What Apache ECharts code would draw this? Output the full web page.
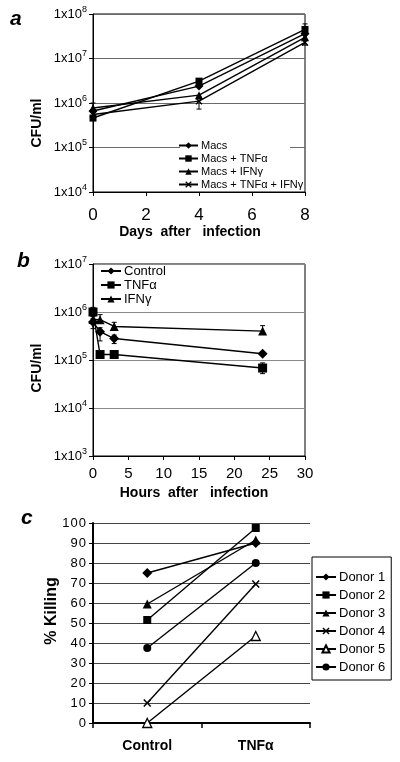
<!DOCTYPE html>
<html>
<head>
<meta charset="utf-8">
<script src="https://cdn.jsdelivr.net/npm/echarts@6/dist/echarts.min.js"></script>
<style>
html,body{margin:0;padding:0;background:#fff;}
#chart{width:400px;height:762px;}
</style>
</head>
<body>
<div id="chart"></div>
<script>
// ---------- Panel a data ----------
const aDays = [0, 4, 8];
const aMacs = [6.6e5, 2.4e6, 3.6e7];
const aTnf = [4.6e5, 3.1e6, 4.5e7];
const aIfn = [7.7e5, 1.5e6, 3.0e7];
const aBoth = [5.5e5, 1.1e6, 2.3e7];
const aNames = ['Macs', 'Macs + TNFα', 'Macs + IFNγ', 'Macs + TNFα + IFNγ'];
// error bars panel a: [day, low, high]
const aErrX = [0, 4, 8];
const aErrLow = [4.0e5, 0.73e6, 2.0e7];
const aErrHigh = [1.0e6, 1.35e6, 6.0e7];

// ---------- Panel b data ----------
const bHours = [0, 1, 3, 24];
const bControl = [6.2e5, 3.9e5, 2.8e5, 1.35e5];
const bTnf = [1.0e6, 1.3e5, 1.3e5, 6.8e4];
const bIfn = [7.0e5, 6.9e5, 5.0e5, 4.0e5];
const bNames = ['Control', 'TNFα', 'IFNγ'];
const bErrX = [0, 1, 3, 24, 0, 1, 3, 24, 1, 3, 24];
const bErrLow = [0.72e6, 2.5e5, 2.2e5, 1.25e5, 4.5e5, 1.2e5, 1.2e5, 5.2e4, 6.1e5, 4.5e5, 3.4e5];
const bErrHigh = [1.25e6, 4.7e5, 3.3e5, 1.45e5, 8.0e5, 1.4e5, 1.45e5, 8.7e4, 8.8e5, 6.1e5, 5.2e5];

// ---------- Panel c data ----------
const cCats = ['Control', 'TNFα'];
const cDonor1 = [75, 90];
const cDonor2 = [51.5, 97.5];
const cDonor3 = [59.5, 91.5];
const cDonor4 = [10, 69.5];
const cDonor5 = [0, 43.5];
const cDonor6 = [37.5, 80];
const cNames = ['Donor 1', 'Donor 2', 'Donor 3', 'Donor 4', 'Donor 5', 'Donor 6'];
const cTicks = [0, 10, 20, 30, 40, 50, 60, 70, 80, 90, 100];

const FONT = 'Liberation Sans, Arial, sans-serif';
const xSym = 'path://M0,1.4L1.4,0L5,3.6L8.6,0L10,1.4L6.4,5L10,8.6L8.6,10L5,6.4L1.4,10L0,8.6L3.6,5Z';

function zip(xs, ys) { return xs.map((x, i) => [x, ys[i]]); }
function errData(xs, lo, hi) { return xs.map((x, i) => [x, lo[i], hi[i]]); }

function expLabel(v) {
  const e = Math.round(Math.log10(v));
  return '{b|1x10}{s|' + e + '}';
}
const expRich = {
  b: { fontSize: 13, fontFamily: FONT, color: '#000', lineHeight: 18 },
  s: { fontSize: 9, fontFamily: FONT, color: '#000', verticalAlign: 'top', lineHeight: 11 }
};

function errSeries(xi, yi, data) {
  return {
    type: 'custom', xAxisIndex: xi, yAxisIndex: yi, data: data,
    encode: { x: 0, y: [1, 2] }, silent: true, z: 1,
    renderItem: function (params, api) {
      const p1 = api.coord([api.value(0), api.value(1)]);
      const p2 = api.coord([api.value(0), api.value(2)]);
      const c = 2.5;
      return {
        type: 'group',
        children: [
          { type: 'line', shape: { x1: p1[0], y1: p1[1], x2: p2[0], y2: p2[1] }, style: { stroke: '#000', lineWidth: 1 } },
          { type: 'line', shape: { x1: p1[0] - c, y1: p1[1], x2: p1[0] + c, y2: p1[1] }, style: { stroke: '#000', lineWidth: 1 } },
          { type: 'line', shape: { x1: p2[0] - c, y1: p2[1], x2: p2[0] + c, y2: p2[1] }, style: { stroke: '#000', lineWidth: 1 } }
        ]
      };
    }
  };
}

function lineS(name, xi, yi, data, symbol, size, extra) {
  const s = {
    name: name, type: 'line', xAxisIndex: xi, yAxisIndex: yi, data: data,
    symbol: symbol, symbolSize: size, showSymbol: true,
    lineStyle: { color: '#000', width: 1.4 },
    itemStyle: { color: '#000', borderColor: '#000', borderWidth: 0 },
    emphasis: { disabled: true }, z: 3
  };
  return Object.assign(s, extra || {});
}

const chart = echarts.init(document.getElementById('chart'), null, { renderer: 'canvas' });

const option = {
  animation: false,
  backgroundColor: '#fff',
  textStyle: { fontFamily: FONT },
  grid: [
    { left: 93, top: 14, width: 212, height: 178, show: true, borderColor: '#000', borderWidth: 1, backgroundColor: 'transparent' },
    { left: 93, top: 264, width: 212, height: 192, show: true, borderColor: '#000', borderWidth: 1, backgroundColor: 'transparent' },
    { left: 93, top: 523, width: 217, height: 200, show: false }
  ],
  xAxis: [
    { gridIndex: 0, type: 'value', min: 0, max: 8, interval: 2,
      axisLine: { show: true, lineStyle: { color: '#000' } },
      axisTick: { show: true, length: 4, lineStyle: { color: '#000' } },
      axisLabel: { fontSize: 17, color: '#000', margin: 15, fontFamily: FONT },
      splitLine: { show: false } },
    { gridIndex: 1, type: 'value', min: 0, max: 30, interval: 5,
      axisLine: { show: true, lineStyle: { color: '#000' } },
      axisTick: { show: true, length: 4, lineStyle: { color: '#000' } },
      axisLabel: { fontSize: 15, color: '#000', margin: 10, fontFamily: FONT },
      splitLine: { show: false } },
    { gridIndex: 2, type: 'category', data: cCats, boundaryGap: true,
      axisLine: { show: true, lineStyle: { color: '#000', width: 2 } },
      axisTick: { show: true, length: 5, interval: 0, alignWithLabel: false, lineStyle: { color: '#000', width: 1.5 } },
      axisLabel: { fontSize: 14, fontWeight: 'bold', color: '#000', margin: 16, fontFamily: FONT },
      splitLine: { show: false } }
  ],
  yAxis: [
    { gridIndex: 0, type: 'log', logBase: 10, min: 1e4, max: 1e8, splitNumber: 4,
      axisLine: { show: true, lineStyle: { color: '#000' } },
      axisTick: { show: true, length: 4, lineStyle: { color: '#000' } },
      axisLabel: { formatter: expLabel, rich: expRich, margin: 6 },
      splitLine: { show: true, lineStyle: { color: '#6a6a6a', width: 1 } } },
    { gridIndex: 1, type: 'log', logBase: 10, min: 1e3, max: 1e7, splitNumber: 4,
      axisLine: { show: true, lineStyle: { color: '#000' } },
      axisTick: { show: true, length: 4, lineStyle: { color: '#000' } },
      axisLabel: { formatter: expLabel, rich: expRich, margin: 6 },
      splitLine: { show: true, lineStyle: { color: '#8a8a8a', width: 1 } } },
    { gridIndex: 2, type: 'value', min: 0, max: 100, interval: 10,
      axisLine: { show: true, lineStyle: { color: '#000', width: 2 } },
      axisTick: { show: true, length: 4, lineStyle: { color: '#000' } },
      axisLabel: { fontSize: 13, color: '#000', margin: 7, fontFamily: FONT,
        formatter: function (v) { return cTicks.indexOf(v) >= 0 ? String(v).split('').join('\u200A') : ''; } },
      splitLine: { show: true, lineStyle: { color: '#444', width: 1 } } }
  ],
  legend: [
    { data: aNames, orient: 'vertical', left: 178, top: 139, itemWidth: 19, itemHeight: 8, itemGap: 0,
      padding: 0, selectedMode: false,
      textStyle: { fontSize: 11, color: '#000', fontFamily: FONT, padding: [0, 0, 0, -2], lineHeight: 13 } },
    { data: bNames, orient: 'vertical', left: 98, top: 263, itemWidth: 20, itemHeight: 9, itemGap: 0,
      padding: [1, 2, 1, 2], selectedMode: false,
      textStyle: { fontSize: 13, color: '#000', fontFamily: FONT, padding: [0, 0, 0, -2], lineHeight: 14 } },
    { data: cNames, orient: 'vertical', left: 312, top: 557, itemWidth: 20, itemHeight: 9, itemGap: 4,
      padding: [13, 6, 6, 3], borderColor: '#000', borderWidth: 1, backgroundColor: '#fff', selectedMode: false,
      textStyle: { fontSize: 13, color: '#000', fontFamily: FONT, padding: [0, 0, 0, -2], lineHeight: 14 } }
  ],
  graphic: [
    { type: 'rect', z: 1, shape: { x: 180, y: 143, width: 110, height: 8 }, style: { fill: '#fff' }, silent: true },
    { type: 'text', left: 10, top: 9, style: { text: 'a', font: 'italic bold 21px ' + FONT, fill: '#000' } },
    { type: 'text', left: 17, top: 251, style: { text: 'b', font: 'italic bold 21px ' + FONT, fill: '#000' } },
    { type: 'text', left: 21, top: 508, style: { text: 'c', font: 'italic bold 21px ' + FONT, fill: '#000' } },
    { type: 'text', x: 37, y: 123, rotation: Math.PI / 2, style: { text: 'CFU/ml', font: 'bold 14px ' + FONT, fill: '#000', align: 'center', verticalAlign: 'middle' } },
    { type: 'text', x: 37, y: 368, rotation: Math.PI / 2, style: { text: 'CFU/ml', font: 'bold 14px ' + FONT, fill: '#000', align: 'center', verticalAlign: 'middle' } },
    { type: 'text', x: 52, y: 611, rotation: Math.PI / 2, style: { text: '% Killing', font: 'bold 16px ' + FONT, fill: '#000', align: 'center', verticalAlign: 'middle' } },
    { type: 'text', x: 190, y: 232, style: { text: 'Days  after   infection', font: 'bold 14px ' + FONT, fill: '#000', align: 'center', verticalAlign: 'middle' } },
    { type: 'text', x: 194, y: 493, style: { text: 'Hours  after   infection', font: 'bold 14px ' + FONT, fill: '#000', align: 'center', verticalAlign: 'middle' } }
  ],
  series: [
    errSeries(0, 0, errData(aErrX, aErrLow, aErrHigh)),
    lineS(aNames[0], 0, 0, zip(aDays, aMacs), 'diamond', 9),
    lineS(aNames[1], 0, 0, zip(aDays, aTnf), 'rect', 7),
    lineS(aNames[2], 0, 0, zip(aDays, aIfn), 'triangle', 8),
    lineS(aNames[3], 0, 0, zip(aDays, aBoth), xSym, 7),

    errSeries(1, 1, errData(bErrX, bErrLow, bErrHigh)),
    lineS(bNames[0], 1, 1, zip(bHours, bControl), 'diamond', 10),
    lineS(bNames[1], 1, 1, zip(bHours, bTnf), 'rect', 9),
    lineS(bNames[2], 1, 1, zip(bHours, bIfn), 'triangle', 9),

    lineS(cNames[0], 2, 2, cDonor1, 'diamond', 10),
    lineS(cNames[1], 2, 2, cDonor2, 'rect', 8),
    lineS(cNames[2], 2, 2, cDonor3, 'triangle', 9),
    lineS(cNames[3], 2, 2, cDonor4, xSym, 8),
    lineS(cNames[4], 2, 2, cDonor5, 'triangle', 9, { itemStyle: { color: '#fff', borderColor: '#000', borderWidth: 1.3 } }),
    lineS(cNames[5], 2, 2, cDonor6, 'circle', 8)
  ]
};
chart.setOption(option);
</script>
</body>
</html>
